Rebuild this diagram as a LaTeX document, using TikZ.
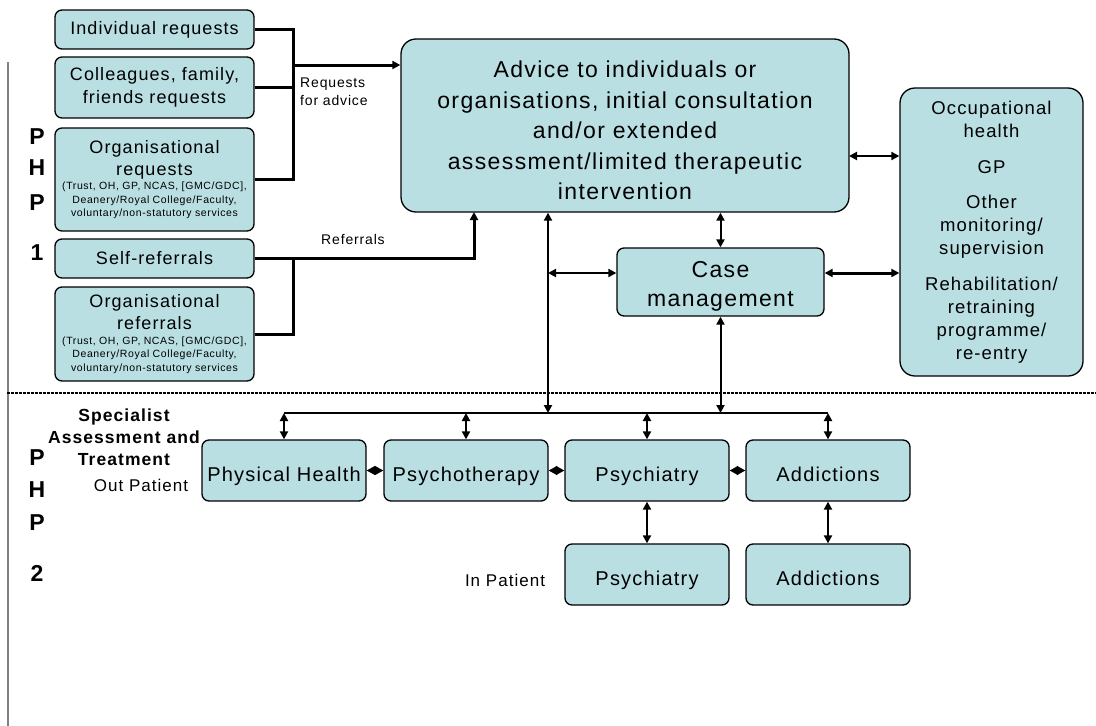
\documentclass[tikz,border=0pt]{standalone}
\usepackage{fontspec}
\setmainfont[LetterSpace=6]{Liberation Sans}
\usetikzlibrary{arrows.meta}
\definecolor{boxfill}{RGB}{185,223,227}
\newcommand{\myfs}[2]{\fontsize{#1}{#2}\selectfont}
\begin{document}
\begin{tikzpicture}[x=1pt,y=-1pt,
  box/.style={draw=black, line width=1.3pt, fill=boxfill, rounded corners=7pt, align=center, inner sep=0pt},
  bigbox/.style={box, rounded corners=15pt},
  lbox/.style={box, minimum width=199pt},
  lowbox/.style={box, minimum width=164pt, minimum height=61pt, font=\myfs{20}{24}, text height=24pt, text depth=3pt},
  tipA/.style={{Triangle[length=8pt,width=8pt]}-{Triangle[length=8pt,width=8pt]}},
  tipR/.style={-{Triangle[length=8pt,width=8pt]}},
  tipD/.style={{Triangle[length=8.5pt,width=9pt]}-{Triangle[length=8.5pt,width=9pt]}},
  brk/.style={line width=3pt},
  mid/.style={line width=2pt},
  lbl/.style={inner sep=0pt},
  php/.style={inner sep=0pt, font=\bfseries\myfs{23}{26}}
]
\useasboundingbox (0,0) rectangle (1096,726);

% separators
\draw[gray, line width=1.5pt] (8,62) -- (8,726);
\draw[dash pattern=on 3pt off 1pt, line width=1.5pt] (7,393) -- (1096,393);

% PHP labels
\node[php] (p1a) at (37,137) {P};
\node[php] (p1b) at (37,168) {H};
\node[php] (p1c) at (37,203) {P};
\node[php] (p1d) at (37,253) {1};
\node[php] (p2a) at (37,458) {P};
\node[php] (p2b) at (37,490) {H};
\node[php] (p2c) at (37,523) {P};
\node[php] (p2d) at (37,573) {2};

% left column boxes
\node[lbox, minimum height=39pt, font=\myfs{18}{22}] (ind) at (154.5,29.5) {Individual requests};
\node[lbox, minimum height=61pt, font=\myfs{18}{23}] (coll) at (154.5,87.5) {Colleagues, family,\\friends requests};
\node[lbox, minimum height=103pt, text width=199pt] (orq) at (154.5,179.5)
  {\myfs{18}{22}Organisational\\requests\par\vspace{1pt}\myfs{10.5}{13.5}(Trust, OH, GP, NCAS, [GMC/GDC],\\Deanery/Royal College/Faculty,\\voluntary/non-statutory services\par};
\node[lbox, minimum height=39pt, font=\myfs{18}{22}] (self) at (154.5,258.5) {Self-referrals};
\node[lbox, minimum height=94pt, text width=199pt] (orf) at (154.5,334)
  {\myfs{18}{22}Organisational\\referrals\par\vspace{1pt}\myfs{10.5}{13.5}(Trust, OH, GP, NCAS, [GMC/GDC],\\Deanery/Royal College/Faculty,\\voluntary/non-statutory services\par};

% main boxes
\node[bigbox, minimum width=448pt, minimum height=173pt, font=\myfs{23}{30.5}] (advice) at (625,125.5)
  {\rule{0pt}{27pt}Advice to individuals or\\organisations, initial consultation\\and/or extended\\assessment/limited therapeutic\\intervention};
\node[bigbox, minimum width=183pt, minimum height=288pt, font=\myfs{18.5}{23}] (occ) at (991.5,232)
  {Occupational\\health\\[13pt]GP\\[12pt]Other\\monitoring/\\supervision\\[13pt]Rehabilitation/\\retraining\\programme/\\re-entry};
\node[box, minimum width=207pt, minimum height=68pt, font=\myfs{23}{29}] (case) at (720.5,282) {\rule{0pt}{25pt}Case\\management};

% lower boxes
\node[lowbox] (ph) at (284,470.5) {Physical Health};
\node[lowbox] (pt) at (466,470.5) {Psychotherapy};
\node[lowbox] (ps) at (647,470.5) {Psychiatry};
\node[lowbox] (ad) at (828,470.5) {Addictions};
\node[lowbox] (ips) at (647,574.5) {Psychiatry};
\node[lowbox] (iad) at (828,574.5) {Addictions};

% labels
\node[lbl, align=left, anchor=west, font=\myfs{14}{18}] (lreq) at (300,92) {Requests\\for advice};
\node[lbl, font=\myfs{14}{18}] (lref) at (353,239) {Referrals};
\node[lbl, align=center, font=\bfseries\myfs{17.5}{22}] (spec) at (124,437) {Specialist\\Assessment and\\Treatment};
\node[lbl, font=\myfs{17}{20}] (outp) at (141,485) {Out Patient};
\node[lbl, font=\myfs{17}{20}] (inp) at (505,580) {In Patient};

% request bracket
\coordinate (rq) at (293,65);
\draw[brk] (ind.east) -| (rq);
\draw[brk] (orq.east) -| (rq);
\draw[brk] (coll.east) -- (coll.east -| rq);
\draw[brk, tipR] (rq) -- (rq -| advice.west);

% referral bracket
\coordinate (rf) at (293,258.5);
\coordinate (rfin) at (474,212);
\draw[brk] (orf.east) -| (rf);
\draw[brk, tipR] (self.east) -| (rfin);

% links to the right
\coordinate (ao) at (849,156);
\draw[mid, tipA] (ao) -- (ao -| occ.west);
\draw[brk, tipA] ([yshift=9pt]case.east) -- ([yshift=9pt]case.east -| occ.west);
\draw[mid, tipA] (case.north |- advice.south) -- (case.north);

% links down
\coordinate (d1) at (548,413);
\coordinate (d2) at (720.5,413);
\draw[mid, tipA] (d1 |- advice.south) -- (d1);
\draw[mid, tipA] ([yshift=9pt]case.west -| d1) -- ([yshift=9pt]case.west);
\draw[mid, tipA] (case.south) -- (d2);
\draw[line width=1.5pt] (ph.north |- d1) -- (ad.north |- d1);
\foreach \n in {ph,pt,ps,ad} {
  \draw[mid, tipA] (\n.north |- d1) -- (\n.north);
}
\draw[line width=1.5pt, tipD] (ph.east) -- (pt.west);
\draw[line width=1.5pt, tipD] (pt.east) -- (ps.west);
\draw[line width=1.5pt, tipD] (ps.east) -- (ad.west);
\draw[mid, tipA] (ps.south) -- (ips.north);
\draw[mid, tipA] (ad.south) -- (iad.north);
\end{tikzpicture}
\end{document}
